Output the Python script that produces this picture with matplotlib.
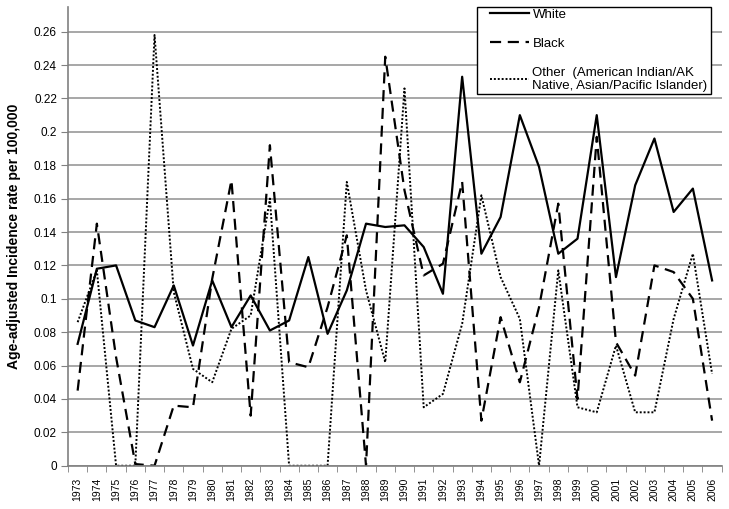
import numpy as np
import matplotlib
matplotlib.use('Agg')
import matplotlib.pyplot as plt
from matplotlib.patches import Rectangle

plt.rcParams['font.family'] = ['Liberation Sans', 'DejaVu Sans']

years = list(range(1973, 2007))

white = [0.073, 0.118, 0.120, 0.087, 0.083, 0.108, 0.072, 0.111, 0.083, 0.102,
         0.081, 0.087, 0.125, 0.079, 0.105, 0.145, 0.143, 0.144, 0.131, 0.103,
         0.233, 0.127, 0.149, 0.210, 0.179, 0.127, 0.136, 0.210, 0.113, 0.168,
         0.196, 0.152, 0.166, 0.111]

black = [0.045, 0.145, 0.065, 0.001, 0.000, 0.036, 0.035, 0.112, 0.171, 0.030,
         0.192, 0.062, 0.059, 0.095, 0.138, 0.000, 0.245, 0.165, 0.114, 0.121,
         0.170, 0.027, 0.089, 0.050, 0.095, 0.157, 0.040, 0.197, 0.074, 0.054,
         0.120, 0.116, 0.100, 0.027]

other = [0.086, 0.117, 0.000, 0.000, 0.258, 0.104, 0.058, 0.050, 0.082, 0.090,
         0.160, 0.000, 0.000, 0.000, 0.170, 0.105, 0.062, 0.226, 0.035, 0.043,
         0.085, 0.162, 0.113, 0.088, 0.000, 0.117, 0.035, 0.032, 0.072, 0.032,
         0.032, 0.088, 0.127, 0.055]

fig = plt.figure(figsize=(7.29, 5.09), dpi=100)
ax = fig.add_axes([0.0933, 0.085, 0.8967, 0.901])

x = np.arange(len(years))
ax.plot(x, white, color='black', lw=1.6, label='White')
ax.plot(x, black, color='black', lw=1.6, dashes=(5, 3), label='Black')
ax.plot(x, other, color='black', lw=1.4, linestyle=(0, (1, 1)),
        label='Other  (American Indian/AK\nNative, Asian/Pacific Islander)')

ax.set_xlim(-0.5, len(years) - 0.5)
ax.set_ylim(0, 0.2747)

# y axis
ax.set_yticks(np.arange(0, 0.27, 0.02))
ax.set_yticklabels(['0'] + ['%g' % v for v in np.arange(0.02, 0.27, 0.02)])
ax.grid(axis='y', color='#a0a0a0', lw=1.3)
ax.set_axisbelow(True)
ax.tick_params(axis='y', length=5, color='#808080', labelsize=8.5, pad=3)
ax.set_ylabel('Age-adjusted Incidence rate per 100,000', fontsize=10,
              fontweight='bold', labelpad=9)

# x axis: labels at centers, ticks at boundaries
ax.set_xticks(x)
ax.set_xticklabels([str(y) for y in years], rotation=90, fontsize=7.5)
ax.set_xticks(np.arange(-0.5, len(years)), minor=True)
ax.tick_params(axis='x', which='major', length=0, pad=8.5)
ax.tick_params(axis='x', which='minor', length=4, color='#808080')

for s in ['top', 'right']:
    ax.spines[s].set_visible(False)
ax.spines['left'].set_color('#808080')
ax.spines['bottom'].set_color('#808080')
ax.spines['left'].set_linewidth(1.2)
ax.spines['bottom'].set_linewidth(1.2)

# legend without its own frame; box drawn separately (wider left margin like Excel)
leg = ax.legend(loc='upper right', bbox_to_anchor=(0.9845, 1.006), borderaxespad=0,
                fontsize=9.5, frameon=False, handlelength=2.9, handletextpad=0.3,
                borderpad=0.3, labelspacing=1.28)
leg.set_zorder(6)
box = Rectangle((477 / 729, 1 - 94 / 509), 234 / 729, 87 / 509,
                transform=fig.transFigure, facecolor='white', edgecolor='black',
                lw=1.0, zorder=5.5, clip_on=False)
ax.add_patch(box)

fig.savefig('out.png', dpi=100)
